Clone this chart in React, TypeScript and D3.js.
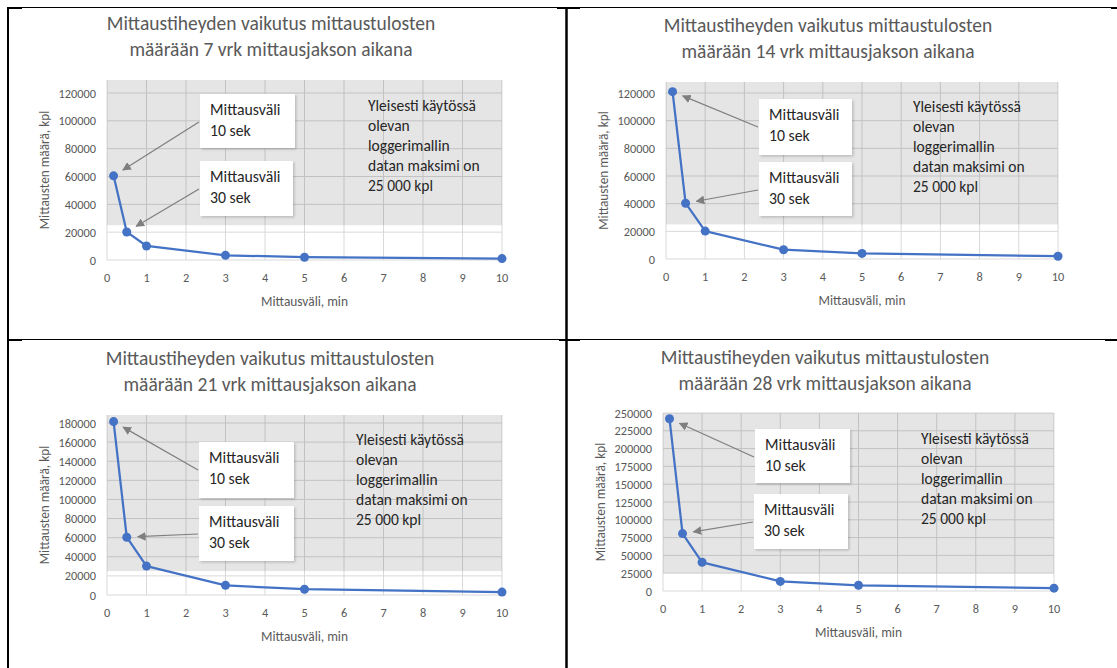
import React from "react";
import * as d3 from "d3";

// Measurement interval (minutes) on the x axis
const intervalsMin = [0.1667, 0.5, 1, 3, 5, 10];
// Number of measurements for each measuring period
const counts7 = [60480, 20160, 10080, 3360, 2016, 1008];
const counts14 = [120960, 40320, 20160, 6720, 4032, 2016];
const counts21 = [181440, 60480, 30240, 10080, 6048, 3024];
const counts28 = [241920, 80640, 40320, 13440, 8064, 4032];
const periodDays = ["7", "14", "21", "28"];
const yMaxes = [120000, 120000, 180000, 250000];
const ySteps = [20000, 20000, 20000, 25000];
const xTicks = [0, 1, 2, 3, 4, 5, 6, 7, 8, 9, 10];
const loggerLimit = 25000;

const titleLine1 = "Mittaustiheyden vaikutus mittaustulosten";
const noteLines = ["Yleisesti käytössä", "olevan", "loggerimallin", "datan maksimi on", "25 000 kpl"];
const calloutLines = [
  ["Mittausväli", "10 sek"],
  ["Mittausväli", "30 sek"],
];

const FONT = "Carlito, Lato, 'Open Sans', sans-serif";
const BLUE = "#4472C4";

type Layout = {
  titleX: number;
  titleY: number;
  left: number;
  right: number;
  bottom: number;
  topTick: number;
  shadeTop: number;
  noteX: number;
  noteY: number;
  boxes: { x: number; y: number; w: number; h: number }[];
};

const layouts: Layout[] = [
  { titleX: 271, titleY: 29, left: 107, right: 502, bottom: 260, topTick: 93, shadeTop: 80, noteX: 368, noteY: 111,
    boxes: [{ x: 200, y: 94, w: 95, h: 54 }, { x: 200, y: 161, w: 93, h: 55 }] },
  { titleX: 828, titleY: 31, left: 666, right: 1058, bottom: 259, topTick: 93, shadeTop: 82, noteX: 913, noteY: 112,
    boxes: [{ x: 759, y: 99, w: 93, h: 56 }, { x: 759, y: 162, w: 93, h: 54 }] },
  { titleX: 270, titleY: 364, left: 107, right: 502, bottom: 595, topTick: 423, shadeTop: 415, noteX: 356, noteY: 445,
    boxes: [{ x: 199, y: 442, w: 95, h: 56 }, { x: 199, y: 506, w: 95, h: 55 }] },
  { titleX: 825, titleY: 363, left: 663, right: 1054, bottom: 591, topTick: 413, shadeTop: 413, noteX: 921, noteY: 444,
    boxes: [{ x: 755, y: 429, w: 95, h: 54 }, { x: 754, y: 494, w: 94, h: 55 }] },
];

const seriesList = [counts7, counts14, counts21, counts28];

function Chart({ idx }: { idx: number }) {
  const L = layouts[idx];
  const values = seriesList[idx];
  const yMax = yMaxes[idx];
  const step = ySteps[idx];
  const x = d3.scaleLinear().domain([0, 10]).range([L.left, L.right]);
  const y = d3.scaleLinear().domain([0, yMax]).range([L.bottom, L.topTick]);
  const yTicks = d3.range(0, yMax + 1, step);
  const pts = intervalsMin.map((m, i) => [x(m), y(values[i])] as [number, number]);
  const line = d3.line()(pts) ?? "";
  const id = `ah${idx}`;

  return (
    <g>
      <defs>
        <marker id={id} viewBox="0 0 10 10" refX="9" refY="5" markerWidth="7" markerHeight="7" orient="auto">
          <path d="M0,0 L10,5 L0,10 z" fill="#7f7f7f" />
        </marker>
        <filter id={`sh${idx}`} x="-10%" y="-10%" width="130%" height="130%">
          <feDropShadow dx="1.5" dy="1.5" stdDeviation="1" floodColor="#000" floodOpacity="0.18" />
        </filter>
      </defs>
      <text x={L.titleX} y={L.titleY + 1} textAnchor="middle" fontSize={19.5} fill="#595959" fontFamily={FONT}>
        {titleLine1}
      </text>
      <text x={L.titleX} y={L.titleY + 27} textAnchor="middle" fontSize={19.5} fill="#595959" fontFamily={FONT}>
        {`määrään ${periodDays[idx]} vrk mittausjakson aikana`}
      </text>

      {/* gridlines */}
      {yTicks.map((t) => (
        <line key={`gy${t}`} x1={L.left} x2={L.right} y1={y(t)} y2={y(t)} stroke="#d9d9d9" strokeWidth={1} />
      ))}
      {xTicks.map((t) => (
        <line key={`gx${t}`} x1={x(t)} x2={x(t)} y1={L.bottom} y2={L.shadeTop} stroke="#d9d9d9" strokeWidth={1} />
      ))}
      {/* region above the logger data limit */}
      <rect x={L.left} y={L.shadeTop} width={L.right - L.left} height={y(loggerLimit) - L.shadeTop}
        fill="#000" fillOpacity={0.1} />

      {/* axis tick labels */}
      {yTicks.map((t) => (
        <text key={`ly${t}`} x={L.left - 11} y={y(t) + 4.5} textAnchor="end" fontSize={12.3} fill="#595959" fontFamily={FONT}>
          {String(t)}
        </text>
      ))}
      {xTicks.map((t) => (
        <text key={`lx${t}`} x={x(t)} y={L.bottom + 22} textAnchor="middle" fontSize={12.3} fill="#595959" fontFamily={FONT}>
          {String(t)}
        </text>
      ))}
      <text x={(L.left + L.right) / 2} y={L.bottom + 46} textAnchor="middle" fontSize={13.4} fill="#595959" fontFamily={FONT}>
        Mittausväli, min
      </text>
      <text transform={`translate(${L.left - 58},${(L.shadeTop + L.bottom) / 2}) rotate(-90)`} textAnchor="middle"
        fontSize={13.3} fill="#595959" fontFamily={FONT}>
        Mittausten määrä, kpl
      </text>

      {/* series */}
      <path d={line} fill="none" stroke={BLUE} strokeWidth={2.25} strokeLinejoin="round" />
      {pts.map((p, i) => (
        <circle key={`pt${i}`} cx={p[0]} cy={p[1]} r={4.5} fill={BLUE} />
      ))}

      {/* callouts */}
      {L.boxes.map((b, k) => {
        const target = pts[k];
        const sx = b.x - 1;
        const sy = b.y + 28;
        const dx = sx - target[0];
        const dy = sy - target[1];
        const len = Math.hypot(dx, dy);
        const ex = target[0] + (dx / len) * 11;
        const ey = target[1] + (dy / len) * 11;
        return (
          <g key={`cb${k}`}>
            <line x1={sx} y1={sy} x2={ex} y2={ey} stroke="#7f7f7f" strokeWidth={1.25} markerEnd={`url(#${id})`} />
            <rect x={b.x} y={b.y} width={b.w} height={b.h} fill="#fff" filter={`url(#sh${idx})`} />
            {calloutLines[k].map((s, j) => (
              <text key={j} x={b.x + 10} y={b.y + 21 + j * 21} fontSize={15.8} fill="#262626" fontFamily={FONT}>
                {s}
              </text>
            ))}
          </g>
        );
      })}

      {noteLines.map((s, j) => (
        <text key={`n${j}`} x={L.noteX} y={L.noteY + j * 20} fontSize={15.5} fill="#262626" fontFamily={FONT}>
          {s}
        </text>
      ))}
    </g>
  );
}

export default function App() {
  return (
    <div style={{ position: "absolute", left: 0, top: 0 }}>
      <svg width={1117} height={668} style={{ display: "block", background: "#fff" }}>
        <rect x={0} y={0} width={1117} height={668} fill="#fff" />
        {[0, 1, 2, 3].map((i) => (
          <Chart key={i} idx={i} />
        ))}
        {/* table borders */}
        <line x1={7} x2={1117} y1={7.5} y2={7.5} stroke="#000" strokeWidth={1} />
        <line x1={8} x2={8} y1={7} y2={668} stroke="#000" strokeWidth={2} />
        <line x1={566.5} x2={566.5} y1={7} y2={668} stroke="#000" strokeWidth={2.5} />
        <line x1={9} x2={1117} y1={339.5} y2={339.5} stroke="#000" strokeWidth={1} />
        <rect x={7} y={7} width={15} height={2} fill="#000" />
        <rect x={557} y={7} width={23} height={2} fill="#000" />
        <rect x={1111} y={7} width={6} height={2} fill="#000" />
        <rect x={9} y={339} width={13} height={2} fill="#000" />
        <rect x={559} y={339} width={21} height={2} fill="#000" />
        <rect x={1105} y={339} width={12} height={2} fill="#000" />
      </svg>
    </div>
  );
}
